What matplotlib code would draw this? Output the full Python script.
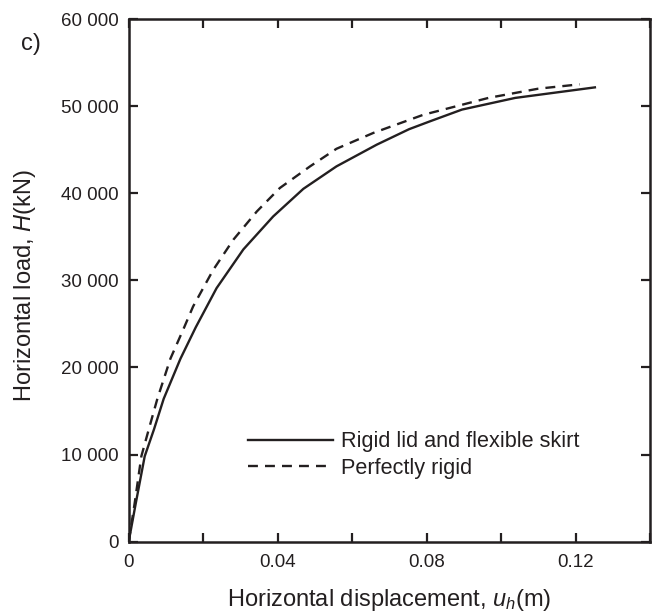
import matplotlib
matplotlib.use('Agg')
import matplotlib.pyplot as plt
from matplotlib.ticker import MultipleLocator, FuncFormatter

# ── Curves ───────────────────────────────────────────────────────────────────
u_flex = [0, 0.0019, 0.0043, 0.0068, 0.0094, 0.0139, 0.0180, 0.0236, 0.0308,
          0.0388, 0.0469, 0.0558, 0.0666, 0.0753, 0.0809, 0.0895, 0.1038, 0.1252]
H_flex = [0, 4400, 9800, 12900, 16400, 21000, 24600, 29100, 33550,
          37330, 40500, 43080, 45570, 47350, 48250, 49600, 50940, 52150]

u_rigid = [0, 0.0016, 0.0034, 0.0054, 0.0077, 0.0112, 0.0148, 0.0173, 0.0227,
           0.0281, 0.0344, 0.0406, 0.0487, 0.0558, 0.0657, 0.0791, 0.0967,
           0.1100, 0.1211]
H_rigid = [0, 4400, 9800, 12900, 16400, 21000, 24500, 27000, 31200,
           34660, 37900, 40600, 43080, 45100, 46920, 49000, 50950,
           52000, 52500]

labels = ['Rigid lid and flexible skirt', 'Perfectly rigid']
x_labelled = [0, 0.04, 0.08, 0.12]

plt.rcParams['font.family'] = ['Liberation Sans', 'DejaVu Sans']
plt.rcParams['mathtext.fontset'] = 'custom'
plt.rcParams['mathtext.it'] = 'Liberation Sans:italic'
plt.rcParams['mathtext.rm'] = 'Liberation Sans'

fig = plt.figure(figsize=(6.61, 6.15), dpi=100)
ax = fig.add_axes([128.7 / 661, 1 - 541.6 / 615, (650 - 128.7) / 661, (541.6 - 19) / 615])

ink = '#231f20'
ax.plot(u_flex, H_flex, color=ink, lw=1.7, solid_joinstyle='round', label=labels[0])
ax.plot(u_rigid, H_rigid, color=ink, lw=1.7, linestyle=(0, (4.2, 3)),
        dash_joinstyle='round', label=labels[1])

ax.set_xlim(0, 0.14)
ax.set_ylim(0, 60000)
ax.xaxis.set_major_locator(MultipleLocator(0.02))
ax.yaxis.set_major_locator(MultipleLocator(10000))


def xfmt(v, pos):
    for t in x_labelled:
        if abs(v - t) < 1e-9:
            return '0' if t == 0 else f'{t:.2f}'
    return ''


ax.xaxis.set_major_formatter(FuncFormatter(xfmt))
ax.yaxis.set_major_formatter(FuncFormatter(lambda v, p: f'{int(v):,}'.replace(',', ' ')))

for s in ax.spines.values():
    s.set_linewidth(1.8)
    s.set_color(ink)
ax.tick_params(direction='in', length=6.5, width=1.6, color=ink, top=True, right=True,
               labelsize=13.5, labelcolor=ink)
ax.tick_params(axis='x', pad=9)
ax.tick_params(axis='y', pad=7.5)

ax.set_xlabel('Horizontal displacement, $u_h$(m)', fontsize=17, color=ink)
ax.xaxis.set_label_coords(0.5, -(600 - 541.6) / 522.6)
ax.xaxis.label.set_va('center')
fig.text(25 / 661, 1 - 285 / 615, 'Horizontal load, $H$(kN)', rotation=90,
         ha='center', va='center', fontsize=17, color=ink)

fig.text(31 / 661, 1 - 44 / 615, 'c)', ha='center', va='center', fontsize=17, color=ink)

ax.legend(loc='center left', bbox_to_anchor=((248 - 128.7) / 521.3, (541.6 - 455) / 522.6),
          frameon=False, fontsize=15.6, handlelength=3.9, handletextpad=0.37,
          labelspacing=0.25, borderpad=0, borderaxespad=0, labelcolor=ink)

plt.savefig('out.png', dpi=100, facecolor='white')
